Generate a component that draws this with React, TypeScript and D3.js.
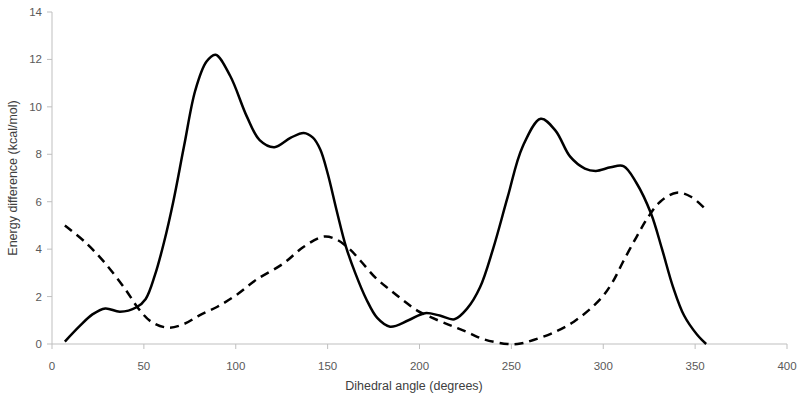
import React from "react";
import * as d3 from "d3";

const solidAngles = [7, 15, 22, 29, 37, 46, 51, 56, 61, 66, 72, 78, 84, 89, 97, 106, 113, 121, 130, 137, 142, 146, 150, 155, 160, 165, 171, 177, 184, 194, 203, 211, 219, 226, 233, 240, 248, 256, 266, 274, 282, 290, 296, 304, 311, 318, 326, 332, 338, 344, 351, 356];
const solidEnergy = [0.1, 0.75, 1.25, 1.5, 1.36, 1.55, 1.9, 2.9, 4.3, 6.0, 8.4, 10.7, 11.9, 12.2, 11.3, 9.6, 8.6, 8.3, 8.7, 8.9, 8.7, 8.2, 7.2, 5.6, 4.1, 3.0, 1.9, 1.1, 0.73, 1.0, 1.3, 1.2, 1.04, 1.5, 2.4, 4.0, 6.2, 8.3, 9.5, 9.0, 7.9, 7.4, 7.3, 7.45, 7.5, 6.8, 5.5, 4.0, 2.4, 1.2, 0.4, 0];

const dashAngles = [7, 18, 29, 40, 47, 54, 63, 72, 80, 90, 100, 111, 126, 137, 148, 155, 162, 168, 176, 184, 191, 199, 210, 218, 226, 235, 248, 255, 262, 272, 284, 298, 305, 311, 318, 324, 331, 340, 348, 356];
const dashEnergy = [5.0, 4.3, 3.4, 2.3, 1.5, 0.94, 0.69, 0.85, 1.2, 1.57, 2.05, 2.7, 3.4, 4.1, 4.53, 4.4, 4.0, 3.5, 2.8, 2.28, 1.85, 1.4, 1.0, 0.75, 0.5, 0.2, 0.0, 0.02, 0.17, 0.45, 0.94, 1.86, 2.6, 3.5, 4.5, 5.3, 6.0, 6.38, 6.2, 5.65];

const xTicks = [0, 50, 100, 150, 200, 250, 300, 350, 400];
const yTicks = [0, 2, 4, 6, 8, 10, 12, 14];

const xTitle = "Dihedral angle (degrees)";
const yTitle = "Energy difference (kcal/mol)";

export default function App() {
  const W = 800, H = 400;
  const left = 52, right = 787, top = 12, bottom = 344;
  const x = d3.scaleLinear().domain([0, 400]).range([left, right]);
  const y = d3.scaleLinear().domain([0, 14]).range([bottom, top]);
  const line = d3
    .line<[number, number]>()
    .x((d) => x(d[0]))
    .y((d) => y(d[1]))
    .curve(d3.curveCatmullRom.alpha(0.5));
  const solid = solidAngles.map((a, i) => [a, solidEnergy[i]] as [number, number]);
  const dashed = dashAngles.map((a, i) => [a, dashEnergy[i]] as [number, number]);
  const axisColor = "#bfbfbf";
  const textColor = "#595959";
  const font = "'Liberation Sans', Arial, sans-serif";
  return (
    <svg width={W} height={H} style={{ position: "absolute", left: 0, top: 0, background: "#fff" }}>
      <rect x={0} y={0} width={W} height={H} fill="#fff" />
      <line x1={left} x2={left} y1={top} y2={bottom} stroke={axisColor} strokeWidth={1} />
      <line x1={left} x2={right} y1={bottom} y2={bottom} stroke={axisColor} strokeWidth={1} />
      {yTicks.map((t) => (
        <g key={"y" + t}>
          <line x1={left - 5} x2={left} y1={y(t)} y2={y(t)} stroke={axisColor} />
          <text x={left - 10} y={y(t)} dy="0.35em" textAnchor="end" fontSize={11.5} fill={textColor} fontFamily={font}>
            {t}
          </text>
        </g>
      ))}
      {xTicks.map((t) => (
        <g key={"x" + t}>
          <line x1={x(t)} x2={x(t)} y1={bottom} y2={bottom + 5} stroke={axisColor} />
          <text x={x(t)} y={366} dy="0.35em" textAnchor="middle" fontSize={11.5} fill={textColor} fontFamily={font}>
            {t}
          </text>
        </g>
      ))}
      <text x={414} y={386} dy="0.35em" textAnchor="middle" fontSize={12.5} fill="#404040" fontFamily={font}>
        {xTitle}
      </text>
      <text
        transform={`translate(13,${178}) rotate(-90)`}
        dy="0.35em"
        textAnchor="middle"
        fontSize={12.5}
        fill="#404040"
        fontFamily={font}
      >
        {yTitle}
      </text>
      <path d={line(dashed) || ""} fill="none" stroke="#000" strokeWidth={2.5} strokeDasharray="9,6" />
      <path d={line(solid) || ""} fill="none" stroke="#000" strokeWidth={2.5} />
    </svg>
  );
}
